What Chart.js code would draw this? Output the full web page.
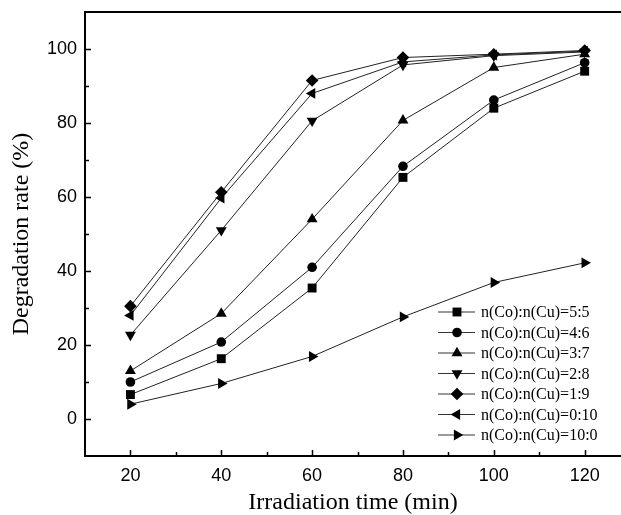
<!DOCTYPE html>
<html>
<head>
<meta charset="utf-8">
<script src="https://cdn.jsdelivr.net/npm/chart.js@4.4.0/dist/chart.umd.min.js"></script>
<style>
  html, body { margin: 0; padding: 0; background: #fff; overflow: hidden; }
  canvas { display: block; }
</style>
</head>
<body>
<canvas id="degradationChart" width="621" height="515"></canvas>
<script>
const times = [20, 40, 60, 80, 100, 120]
const ratio55 = [6.6, 16.3, 35.4, 65.3, 84, 94]
const ratio46 = [10, 20.8, 41, 68.3, 86.2, 96.3]
const ratio37 = [13, 28.5, 54, 80.7, 95, 98.6]
const ratio28 = [22.7, 51, 80.6, 95.7, 98.2, 99.2]
const ratio19 = [30.5, 61.3, 91.5, 97.7, 98.6, 99.6]
const ratio010 = [28, 59.7, 88, 96.5, 98.4, 99.4]
const ratio100 = [4, 9.6, 16.9, 27.6, 36.9, 42.2]

const seriesLabels = [
  'n(Co):n(Cu)=5:5',
  'n(Co):n(Cu)=4:6',
  'n(Co):n(Cu)=3:7',
  'n(Co):n(Cu)=2:8',
  'n(Co):n(Cu)=1:9',
  'n(Co):n(Cu)=0:10',
  'n(Co):n(Cu)=10:0'
]
const seriesValues = [ratio55, ratio46, ratio37, ratio28, ratio19, ratio010, ratio100]

const xMajorTicks = [20, 40, 60, 80, 100, 120]
const xMinorTicks = [30, 50, 70, 90, 110]
const yMajorTicks = [0, 20, 40, 60, 80, 100]
const yMinorTicks = [10, 30, 50, 70, 90]

// marker shapes, one per series
const markers = [
  { style: 'rect', rotation: 0, radius: 6.3 },
  { style: 'circle', rotation: 0, radius: 4.8 },
  { style: 'triangle', rotation: 0, radius: 6.3 },
  { style: 'triangle', rotation: 180, radius: 6.3 },
  { style: 'rectRot', rotation: 0, radius: 6.3 },
  { style: 'triangle', rotation: -90, radius: 6.3 },
  { style: 'triangle', rotation: 90, radius: 6.3 }
]

const serif = '"Liberation Serif", "Times New Roman", serif'
const sans = '"Liberation Sans", Arial, sans-serif'

const datasets = seriesLabels.map((label, i) => ({
  label: label,
  data: times.map((t, j) => ({ x: t, y: seriesValues[i][j] })),
  borderColor: '#222',
  borderWidth: 1,
  backgroundColor: '#000',
  pointBackgroundColor: '#000',
  pointBorderColor: '#000',
  pointBorderWidth: 0,
  pointStyle: markers[i].style,
  pointRotation: markers[i].rotation,
  pointRadius: markers[i].radius,
  tension: 0
}))

// frame with inward ticks, left/top/bottom only
const framePlugin = {
  id: 'frame',
  afterDraw(chart) {
    const { ctx, chartArea } = chart
    const xs = chart.scales.x
    const ys = chart.scales.y
    ctx.save()
    ctx.strokeStyle = '#000'
    ctx.lineWidth = 2
    ctx.beginPath()
    ctx.moveTo(chartArea.right + 2, chartArea.top)
    ctx.lineTo(chartArea.left, chartArea.top)
    ctx.lineTo(chartArea.left, chartArea.bottom)
    ctx.lineTo(chartArea.right + 2, chartArea.bottom)
    ctx.stroke()

    ctx.lineWidth = 1.5
    ctx.beginPath()
    xMajorTicks.forEach((v) => {
      const px = Math.round(xs.getPixelForValue(v)) + 0.5
      ctx.moveTo(px, chartArea.bottom)
      ctx.lineTo(px, chartArea.bottom - 6)
    })
    xMinorTicks.forEach((v) => {
      const px = Math.round(xs.getPixelForValue(v)) + 0.5
      ctx.moveTo(px, chartArea.bottom)
      ctx.lineTo(px, chartArea.bottom - 4)
    })
    yMajorTicks.forEach((v) => {
      const py = Math.round(ys.getPixelForValue(v)) + 0.5
      ctx.moveTo(chartArea.left, py)
      ctx.lineTo(chartArea.left + 6, py)
    })
    yMinorTicks.forEach((v) => {
      const py = Math.round(ys.getPixelForValue(v)) + 0.5
      ctx.moveTo(chartArea.left, py)
      ctx.lineTo(chartArea.left + 4, py)
    })
    ctx.stroke()
    ctx.restore()
  }
}

// legend with a line through each marker
const lineLegendPlugin = {
  id: 'lineLegend',
  afterDraw(chart) {
    const { ctx, chartArea } = chart
    const x0 = chartArea.left + 353
    const rowH = 20.5
    const y0 = chartArea.bottom - 144
    ctx.save()
    chart.data.datasets.forEach((ds, i) => {
      const y = y0 + i * rowH
      ctx.strokeStyle = '#333'
      ctx.lineWidth = 1
      ctx.beginPath()
      ctx.moveTo(x0, y)
      ctx.lineTo(x0 + 37, y)
      ctx.stroke()
      ctx.fillStyle = '#000'
      Chart.helpers.drawPoint(ctx, {
        pointStyle: ds.pointStyle,
        rotation: ds.pointRotation,
        radius: ds.pointRadius,
        borderWidth: 0
      }, x0 + 19, y)
      ctx.fillStyle = '#000'
      ctx.font = '16px ' + serif
      ctx.textBaseline = 'middle'
      ctx.textAlign = 'left'
      ctx.fillText(ds.label, x0 + 43, y + 1)
    })
    ctx.restore()
  }
}

const ctx = document.getElementById('degradationChart').getContext('2d')
const degradationChart = new Chart(ctx, {
  type: 'line',
  data: { datasets: datasets },
  options: {
    responsive: false,
    animation: false,
    devicePixelRatio: 1,
    layout: {
      autoPadding: false,
      padding: { top: 12, right: 0, left: 0, bottom: 0 }
    },
    plugins: {
      legend: { display: false },
      tooltip: { enabled: false }
    },
    scales: {
      x: {
        type: 'linear',
        min: 10,
        max: 128,
        grid: { display: false, drawTicks: false },
        border: { display: false },
        afterBuildTicks: (scale) => {
          scale.ticks = xMajorTicks.map((v) => ({ value: v }))
        },
        afterFit: (scale) => {
          scale.height = 59
          scale.paddingLeft = 0
          scale.paddingRight = 0
        },
        ticks: {
          color: '#000',
          padding: 9,
          font: { family: sans, size: 18 }
        },
        title: {
          display: true,
          text: 'Irradiation time (min)',
          color: '#000',
          padding: { top: 0, bottom: 0 },
          font: { family: serif, size: 24, lineHeight: 1 }
        }
      },
      y: {
        min: -10,
        max: 110,
        grid: { display: false, drawTicks: false },
        border: { display: false },
        afterBuildTicks: (scale) => {
          scale.ticks = yMajorTicks.map((v) => ({ value: v }))
        },
        afterFit: (scale) => {
          scale.width = 85
          scale.paddingTop = 0
          scale.paddingBottom = 0
        },
        ticks: {
          color: '#000',
          padding: 8,
          font: { family: sans, size: 18 }
        },
        title: {
          display: true,
          text: 'Degradation rate (%)',
          color: '#000',
          padding: { top: 10, bottom: 0 },
          font: { family: serif, size: 24, lineHeight: 1 }
        }
      }
    }
  },
  plugins: [framePlugin, lineLegendPlugin]
})
</script>
</body>
</html>
